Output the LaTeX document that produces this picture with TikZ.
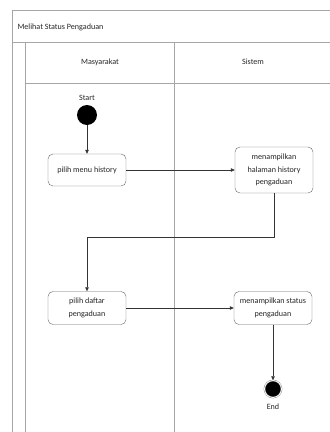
\documentclass[tikz,border=0pt]{standalone}
\usepackage{fontspec}
\setmainfont{Carlito}
\usetikzlibrary{arrows.meta}
\tikzset{
  lane/.style={draw=gray!70, line width=0.9pt},
  action/.style={draw=gray!80!black, rounded corners=5pt, minimum width=78pt, align=center, inner sep=2pt},
  flow/.style={->, draw=black!80, line width=0.5pt}
}
\begin{document}
\begin{tikzpicture}[x=1pt, y=-1pt, font=\fontsize{8.1}{12.8}\selectfont, text=black!85, line join=round, >={Triangle[length=4pt,width=3.5pt]}]
\useasboundingbox (0,0) rectangle (330,432);
% swimlanes
\draw[lane] (330,10) -- (12,10) -- (12,432);
\draw[lane] (12,42) -- (330,42);
\draw[lane] (25,42) -- (25,432);
\draw[lane] (25,83) -- (330,83);
\draw[lane] (174,42) -- (174,432);
\path
  (14,27) node[anchor=west] (title) {Melihat Status Pengaduan}
  (100,62) node (masy) {Masyarakat}
  (253,62) node (sis) {Sistem};
% nodes
\node[circle, fill=black, minimum size=20pt, inner sep=0pt] (start) at (87,115) {};
\node[above=1pt] (startlbl) at (start.north) {Start};
\node[action, minimum height=32pt] (menu) at (87,170) {pilih menu history};
\node[action, minimum height=46pt] (hist) at (274,170) {menampilkan\\halaman history\\pengaduan};
\node[action, minimum height=33pt] (daftar) at (87,308) {pilih daftar\\pengaduan};
\node[action, minimum height=33pt] (status) at (273,308) {menampilkan status\\pengaduan};
\node[circle, draw=gray, double=white, double distance=0.8pt, fill=black, minimum size=17pt, inner sep=0pt] (end) at (273,389) {};
\node[below=3pt] (endlbl) at (end.south) {End};
% connectors
\draw[flow] (start) -- (menu);
\draw[flow] (menu) -- (hist);
\draw[flow] (hist.south) -- ++(0,44) -| (daftar.north);
\draw[flow] (daftar.east |- status.west) -- (status.west);
\draw[flow] (status) -- (end);
\end{tikzpicture}
\end{document}
